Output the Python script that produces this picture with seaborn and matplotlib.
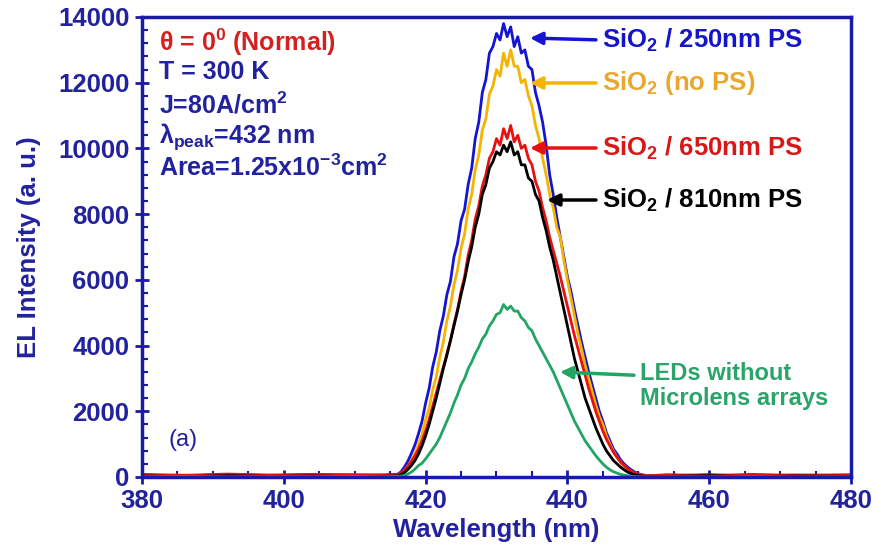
import numpy as np
import pandas as pd
import matplotlib
matplotlib.use("Agg")
import matplotlib.pyplot as plt
from matplotlib.ticker import MultipleLocator
import seaborn as sns

# ---------------- data ----------------
wl_pre = [380, 386, 392, 398, 404, 410, 414]
wl_mid = list(np.arange(416, 451.01, 0.5))
wl_post = [454, 460, 466, 472, 480]
wavelength = wl_pre + wl_mid + wl_post

blue_pre = [60, 30, 80, 40, 70, 50, 60]
blue_mid = [80, 150, 300, 480, 720, 980, 1320, 1700, 2250, 2700,
            3350, 3800, 4450, 4900, 5550, 5950, 6700, 7100, 7800, 8150,
            8900, 9400, 10300, 10800, 11700, 12100, 12900, 13100, 13500, 13300,
            13800, 13400, 13700, 13100, 13400, 12900, 13000, 12500, 12400, 11700,
            11300, 10800, 10100, 9200, 8600, 7900, 7300, 6700, 6100, 5650,
            5100, 4600, 4100, 3650, 3200, 2800, 2400, 2000, 1700, 1350,
            1100, 850, 700, 520, 400, 300, 220, 150, 100, 70,
            50]
blue_post = [40, 70, 30, 60, 40]

yellow_pre = [40, 60, 20, 50, 30, 60, 40]
yellow_mid = [50, 110, 200, 330, 500, 720, 1000, 1300, 1750, 2100,
              2650, 3050, 3650, 4100, 4750, 5200, 5850, 6300, 6950, 7400,
              8150, 8600, 9350, 9800, 10550, 10900, 11650, 11900, 12400, 12200,
              12900, 12500, 13000, 12500, 12500, 12000, 12100, 11600, 11300, 10700,
              10300, 9700, 9200, 8600, 8200, 7600, 7300, 6600, 6000, 5450,
              4900, 4350, 3900, 3400, 3000, 2600, 2200, 1850, 1600, 1250,
              1000, 780, 600, 450, 330, 240, 170, 110, 80, 50,
              30]
yellow_post = [50, 30, 60, 20, 50]

red_pre = [80, 50, 90, 60, 80, 70, 60]
red_mid = [60, 120, 200, 330, 480, 650, 850, 1100, 1400, 1750,
           2150, 2550, 2950, 3350, 3750, 4150, 4650, 5100, 5650, 6100,
           6750, 7200, 7850, 8250, 8850, 9200, 9700, 9900, 10300, 10100,
           10600, 10300, 10700, 10200, 10400, 10000, 10100, 9700, 9500, 9000,
           8700, 8200, 7800, 7300, 6900, 6500, 6100, 5650, 5200, 4750,
           4300, 3900, 3500, 3100, 2700, 2350, 2000, 1700, 1400, 1150,
           950, 750, 600, 450, 350, 250, 180, 120, 80, 50,
           30]
red_post = [70, 40, 80, 50, 70]

black_pre = [30, 10, 40, 20, 30, 10, 20]
black_mid = [30, 70, 130, 230, 350, 500, 700, 950, 1250, 1600,
             2000, 2400, 2850, 3300, 3700, 4150, 4600, 5050, 5550, 6000,
             6550, 7000, 7600, 8000, 8600, 8900, 9400, 9600, 9900, 9800,
             10100, 9900, 10200, 9800, 9900, 9500, 9500, 9100, 9000, 8600,
             8400, 7900, 7500, 7000, 6600, 6100, 5600, 5100, 4600, 4100,
             3600, 3200, 2800, 2400, 2100, 1800, 1500, 1250, 1000, 800,
             650, 500, 400, 300, 220, 150, 100, 70, 50, 30,
             20]
black_post = [20, 40, 10, 30, 20]

green_pre = [10, 20, 5, 15, 10, 20, 10]
green_mid = [20, 30, 50, 90, 150, 240, 350, 420, 550, 700,
             850, 1000, 1200, 1450, 1700, 1950, 2250, 2500, 2800, 3000,
             3300, 3500, 3750, 3950, 4200, 4350, 4600, 4750, 4950, 5000,
             5250, 5100, 5200, 5050, 5050, 4850, 4750, 4550, 4450, 4200,
             4000, 3800, 3600, 3400, 3200, 2950, 2700, 2450, 2200, 1950,
             1700, 1500, 1300, 1100, 950, 800, 650, 520, 400, 300,
             220, 160, 120, 80, 60, 40, 20, 15, 10, 5,
             5]
green_post = [10, 5, 15, 5, 10]

series_names = ["SiO2 / 250nm PS", "SiO2 (no PS)", "SiO2 / 650nm PS",
                "SiO2 / 810nm PS", "LEDs without Microlens arrays"]
series_values = [blue_pre + blue_mid + blue_post,
                 yellow_pre + yellow_mid + yellow_post,
                 red_pre + red_mid + red_post,
                 black_pre + black_mid + black_post,
                 green_pre + green_mid + green_post]
series_colors = ["#1414d2", "#f4b400", "#e81010", "#000000", "#22a463"]

x_ticks = [380, 400, 420, 440, 460, 480]
y_ticks = [0, 2000, 4000, 6000, 8000, 10000, 12000, 14000]

rows = []
for name, vals in zip(series_names, series_values):
    assert len(vals) == len(wavelength), (name, len(vals), len(wavelength))
    for w, v in zip(wavelength, vals):
        rows.append({"Wavelength": w, "Intensity": v, "Series": name})
df = pd.DataFrame(rows)

# ---------------- style ----------------
sns.set_theme(style="white")
plt.rcParams["font.family"] = ["Liberation Sans", "DejaVu Sans"]
plt.rcParams["font.weight"] = "bold"
plt.rcParams["mathtext.fontset"] = "custom"
plt.rcParams["mathtext.rm"] = "Liberation Sans:bold"
plt.rcParams["mathtext.bf"] = "Liberation Sans:bold"
plt.rcParams["mathtext.it"] = "Liberation Sans:bold:italic"
plt.rcParams["mathtext.default"] = "rm"

axis_blue = "#1a1aa8"
text_blue = "#22229e"

fig = plt.figure(figsize=(8.79, 5.5), dpi=100)
ax = fig.add_axes([142 / 879, 1 - 477 / 550, (851 - 142) / 879, (477 - 17) / 550])

sns.lineplot(data=df, x="Wavelength", y="Intensity", hue="Series",
             hue_order=series_names, palette=series_colors, sort=False,
             estimator=None, linewidth=2.0, legend=False, ax=ax)

ax.set_xlim(380, 480)
ax.set_ylim(0, 14000)
ax.set_xticks(x_ticks)
ax.set_yticks(y_ticks)
ax.xaxis.set_minor_locator(MultipleLocator(5))
ax.yaxis.set_minor_locator(MultipleLocator(400))
ax.tick_params(which="major", direction="inout", length=10, width=2,
               color=axis_blue, labelsize=18.5, labelcolor=text_blue, pad=4)
ax.tick_params(which="minor", direction="in", length=4, width=1.5, color=axis_blue)
ax.tick_params(axis="x", which="both", bottom=True)
ax.tick_params(axis="y", which="both", left=True)
for lab in ax.get_xticklabels() + ax.get_yticklabels():
    lab.set_fontweight("bold")
for s in ax.spines.values():
    s.set_color(axis_blue)
    s.set_linewidth(2.5)

ax.set_xlabel("Wavelength (nm)", fontsize=18.5, fontweight="bold", color=text_blue, labelpad=3)
ax.set_ylabel("EL Intensity (a. u.)", fontsize=18.5, fontweight="bold", color=text_blue, labelpad=12)

# ---------------- annotations ----------------
def px2data(x, y):
    return 380 + (x - 142) / 7.09, (477 - y) * 14000 / 460

info_lines = [("θ = 0$^{0}$ (Normal)", "#d42020", 42),
              ("T = 300 K", text_blue, 72),
              ("J=80A/cm$^{2}$", text_blue, 105),
              ("λ$_{peak}$=432 nm", text_blue, 137),
              ("Area=1.25x10$^{-3}$cm$^{2}$", text_blue, 168)]
for txt, col, ypx in info_lines:
    xd, yd = px2data(159, ypx)
    ax.text(xd, yd, txt, color=col, fontsize=18, fontweight="bold", ha="left", va="center")

xd, yd = px2data(169, 440)
ax.text(xd, yd, "(a)", color=text_blue, fontsize=17, fontweight="normal", ha="left", va="center")

label_texts = ["SiO$_{2}$ / 250nm PS", "SiO$_{2}$ (no PS)", "SiO$_{2}$ / 650nm PS",
               "SiO$_{2}$ / 810nm PS", "LEDs without\nMicrolens arrays"]
text_colors = ["#1414c8", "#e8a830", "#d81818", "#000000", "#2aa468"]
label_sizes = [18.5, 18.5, 18.5, 18.5, 17]
text_px = [(602, 40), (602, 83), (602, 148), (602, 200), (640, 386)]
tip_px = [(530, 38), (530, 83), (530, 148), (547, 200), (560, 372)]
for txt, col, fs, tp, hp, lc in zip(label_texts, text_colors, label_sizes, text_px, tip_px, series_colors):
    tx, ty = px2data(*tp)
    hx, hy = px2data(*hp)
    rel = (0, 0.5) if "\n" not in txt else (0, 0.72)
    ax.annotate(txt, xy=(hx, hy), xytext=(tx, ty), color=col, fontsize=fs,
                fontweight="bold", ha="left", va="center", linespacing=1.1,
                arrowprops=dict(arrowstyle="-|>", color=lc, lw=2.5,
                                mutation_scale=18, shrinkA=2, shrinkB=0,
                                relpos=rel))

fig.savefig("out.png", dpi=100, facecolor="white")
